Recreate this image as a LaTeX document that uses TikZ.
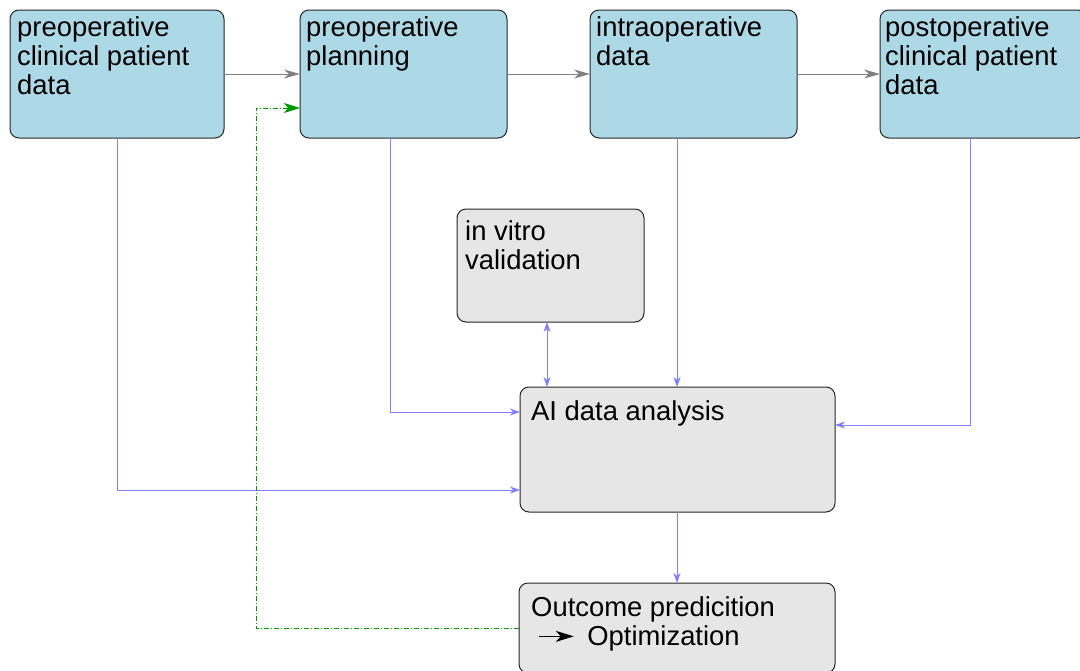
\documentclass[tikz,border=0pt]{standalone}
\usepackage{fontspec}
\setmainfont{Liberation Sans}
\usetikzlibrary{arrows.meta}
\definecolor{boxblue}{HTML}{ADD8E6}
\definecolor{boxgray}{HTML}{E6E6E6}
\definecolor{linkblue}{HTML}{8080FF}
\definecolor{linkgray}{HTML}{808080}
\definecolor{linkgreen}{HTML}{009900}
\begin{document}
\begin{tikzpicture}[x=1pt,y=-1pt,
 box/.style={draw=black!85, line width=1pt, rounded corners=9pt, anchor=north west, inner sep=0pt, outer sep=0pt},
 bluebox/.style={box, fill=boxblue},
 graybox/.style={box, fill=boxgray},
 txt/.style={anchor=north west, inner sep=0pt, align=left, font=\fontsize{27.4}{29}\selectfont},
 flow/.style={draw=linkgray, line width=1pt, -{Stealth[length=16pt,width=9pt,inset=5pt]}},
 feed/.style={draw=linkblue, line width=0.9pt, -{Stealth[length=10pt,width=7pt,inset=3pt]}},
 feedboth/.style={draw=linkblue, line width=0.9pt, {Stealth[length=10pt,width=7pt,inset=3pt]}-{Stealth[length=10pt,width=7pt,inset=3pt]}},
 loopback/.style={draw=linkgreen, line width=0.9pt, dash pattern=on 5pt off 2pt on 1pt off 2pt, -{Stealth[length=16pt,width=10pt,inset=4pt]}}]
\useasboundingbox (0,0) rectangle (1080,670);
\clip (0,0) rectangle (1080,670);

% boxes
\node[bluebox, minimum width=214pt, minimum height=128pt] (A) at (10,10) {};
\node[bluebox, minimum width=207pt, minimum height=128pt] (B) at (300,10) {};
\node[bluebox, minimum width=207pt, minimum height=128pt] (C) at (590,10) {};
\node[bluebox, minimum width=207pt, minimum height=128pt] (D) at (880,10) {};
\node[graybox, minimum width=187pt, minimum height=113pt] (V) at (457,209) {};
\node[graybox, minimum width=315pt, minimum height=125pt] (AI) at (520,387) {};
\node[graybox, minimum width=316pt, minimum height=90pt] (O) at (519,583) {};

% texts
\node[txt] (tA) at (17,16.3) {preoperative\\clinical patient\\data};
\node[txt] (tB) at (306,16.3) {preoperative\\planning};
\node[txt] (tC) at (596,16.3) {intraoperative\\data};
\node[txt] (tD) at (885,16.3) {postoperative\\clinical patient\\data};
\node[txt] (tV) at (465,220.3) {in vitro\\validation};
\node[txt] (tAI) at (531,400.3) {AI data analysis};
\node[txt] (tO) at (531,596.3) {Outcome predicition\\\hspace*{7pt}\tikz[baseline=0pt]\draw[line width=1.2pt,-{Stealth[length=18pt,width=11pt,inset=5pt]}] (0pt,9pt) -- (35pt,9pt);\hspace{13pt}Optimization};

% main flow
\draw[flow] (A) -- (B);
\draw[flow] (B) -- (C);
\draw[flow] (C) -- (D);

% feeds into AI
\coordinate (pA) at (117,490);
\coordinate (pB) at (390,412);
\coordinate (pC) at (677,0);
\coordinate (pD) at (970,425);
\coordinate (pV) at (547,0);
\coordinate (pG) at (256,108);
\draw[feed] (A.south -| pA) |- (AI.west |- pA);
\draw[feed] (B.south -| pB) |- (AI.west |- pB);
\draw[feed] (C.south -| pC) -- (AI.north -| pC);
\draw[feed] (D.south -| pD) |- (AI.east |- pD);
\draw[feedboth] (V.south -| pV) -- (AI.north -| pV);
\draw[feed] (AI.south -| pC) -- (O.north -| pC);

% feedback
\draw[loopback] (O.west) -| (pG) -- (B.west |- pG);
\end{tikzpicture}
\end{document}
